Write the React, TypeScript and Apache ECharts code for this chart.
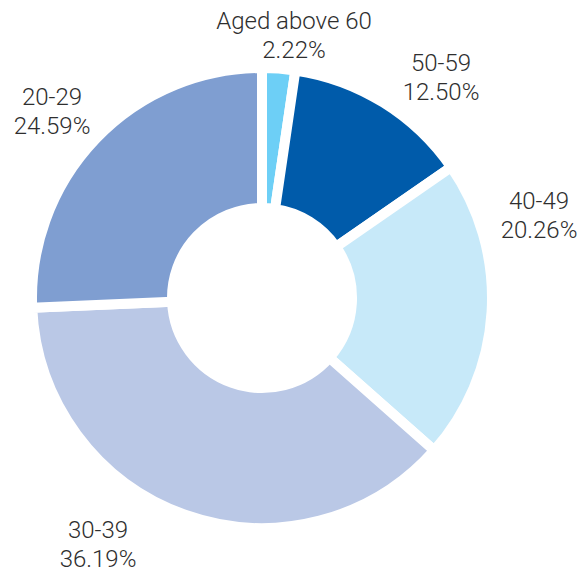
import React, { useEffect, useRef } from "react";
import * as echarts from "echarts";

const categories = ["Aged above 60", "50-59", "40-49", "30-39", "20-29"];
const shares = [2.22, 12.5, 20.26, 36.19, 24.59];
const colors = ["#6DCFF6", "#005BAA", "#C7E9F9", "#BAC8E6", "#7F9ED1"];

// label block centres (layout only)
const LABEL_POS: [number, number][] = [
  [294, 35],
  [441, 77],
  [539, 215],
  [98, 544],
  [52, 111],
];

export default function App() {
  const ref = useRef<HTMLDivElement>(null);
  useEffect(() => {
    if (!ref.current) return;
    const chart = echarts.init(ref.current, undefined, { renderer: "svg" });
    chart.setOption({
      animation: false,
      backgroundColor: "#ffffff",
      series: [
        {
          type: "pie",
          center: [262, 298],
          radius: [90, 230],
          startAngle: 90,
          clockwise: true,
          avoidLabelOverlap: false,
          itemStyle: { borderColor: "#ffffff", borderWidth: 10 },
          label: {
            show: true,
            position: "outside",
            fontFamily: "Roboto, Liberation Sans, Arial, sans-serif",
            fontWeight: 300,
            fontSize: 24,
            lineHeight: 29,
            color: "#2e2e2e",
            align: "center",
            formatter: (p: any) => `${p.name}\n${Number(p.value).toFixed(2)}%`,
          },
          labelLine: { show: false },
          labelLayout: (p: any) => {
            const pos = LABEL_POS[p.dataIndex];
            return { x: pos[0], y: pos[1], align: "center", verticalAlign: "middle" };
          },
          emphasis: { disabled: true },
          data: categories.map((c, i) => ({
            name: c,
            value: shares[i],
            itemStyle: { color: colors[i] },
          })),
        },
      ],
    });
    return () => chart.dispose();
  }, []);
  return (
    <div
      ref={ref}
      style={{ position: "fixed", left: 0, top: 0, width: 583, height: 572 }}
    />
  );
}
